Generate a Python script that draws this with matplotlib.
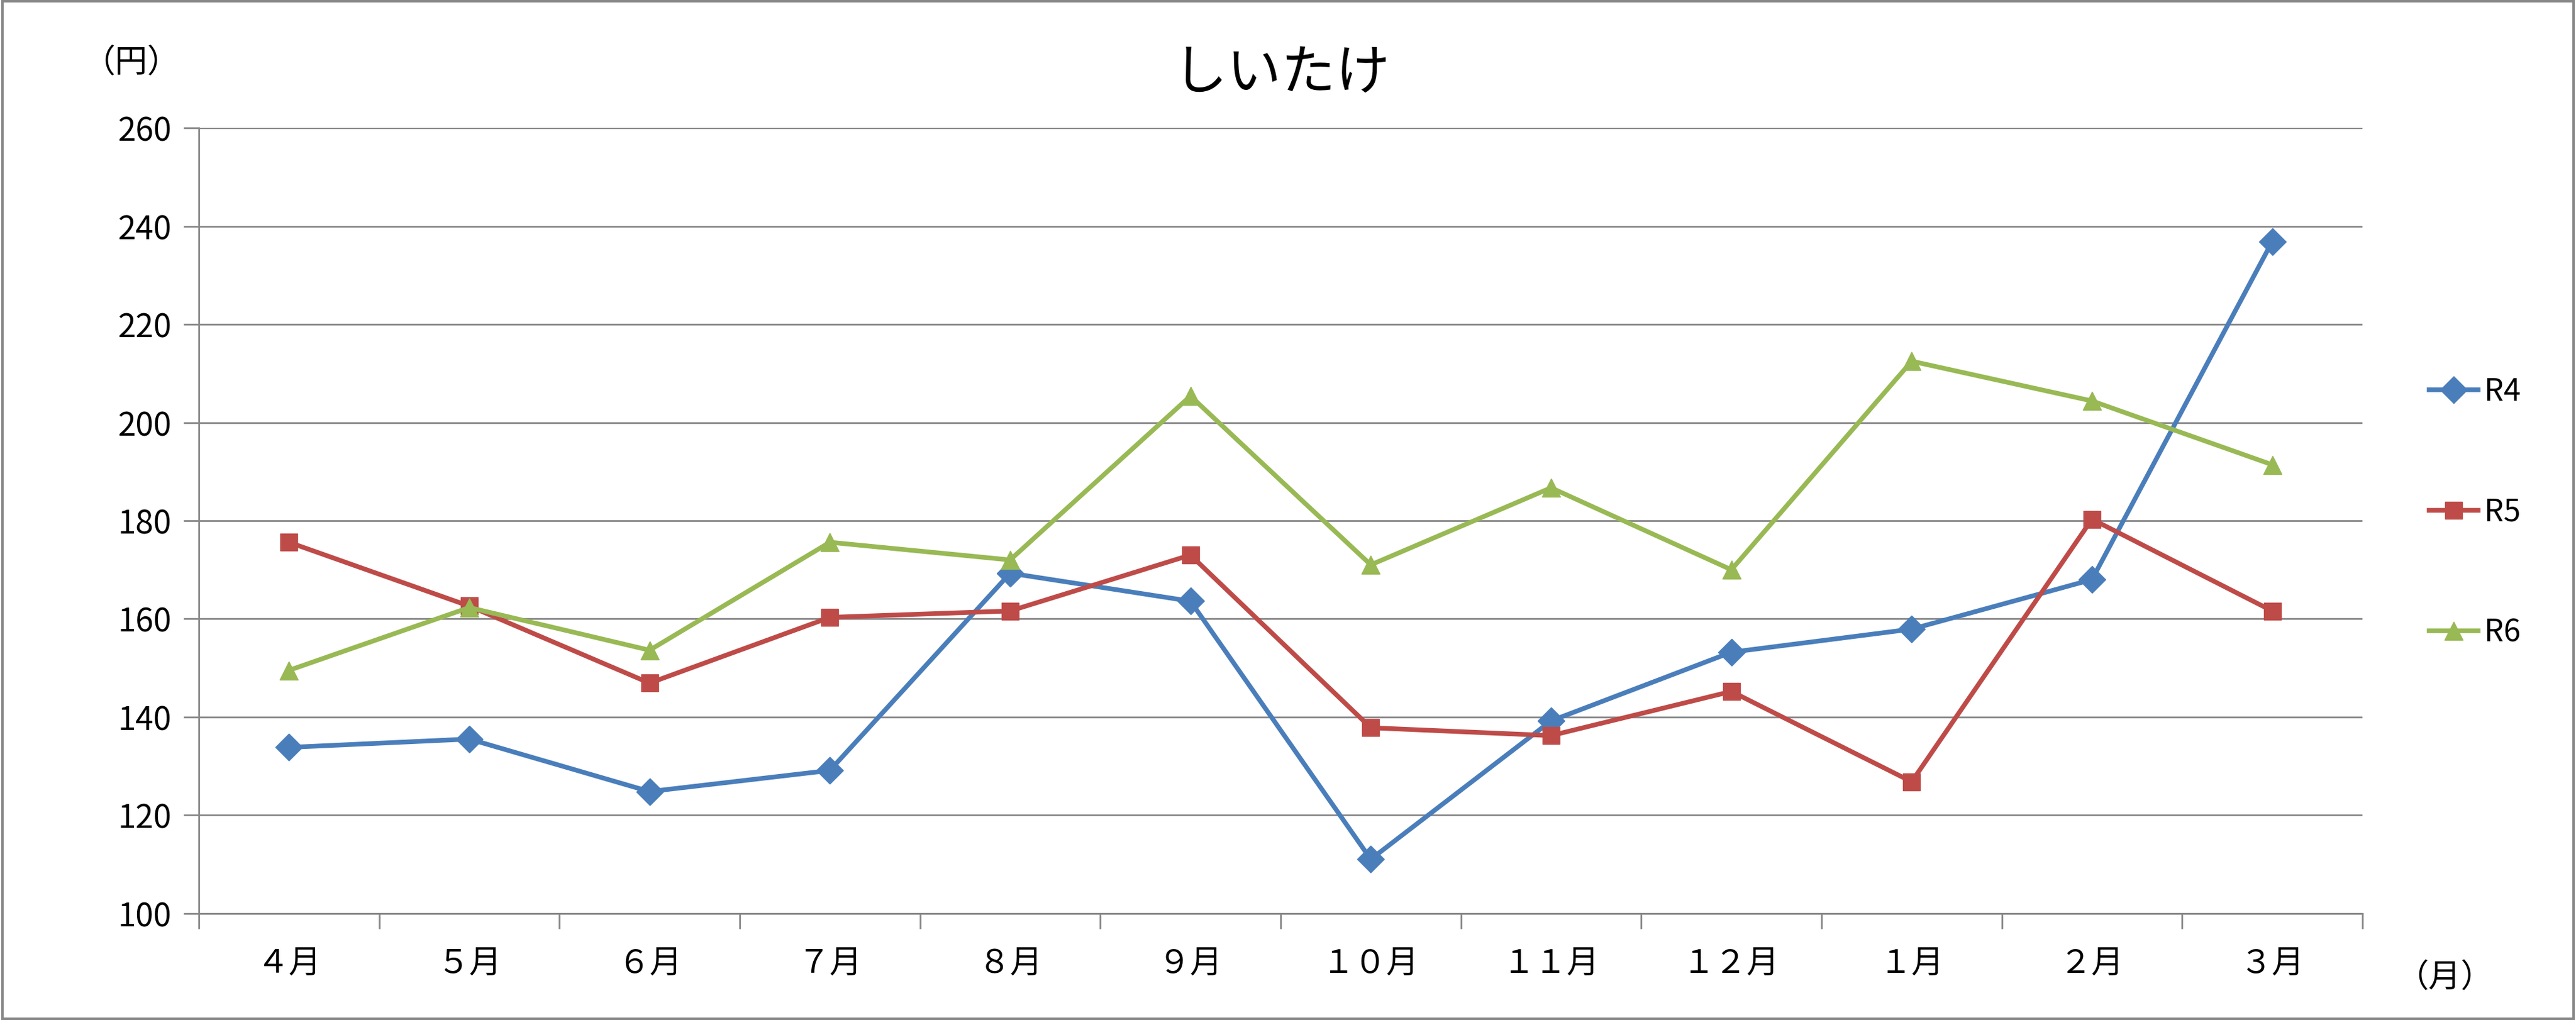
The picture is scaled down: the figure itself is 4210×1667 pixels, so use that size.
import matplotlib.pyplot as plt
import numpy as np

plt.rcParams['font.family'] = ['Noto Sans CJK JP', 'DejaVu Sans']

months = ['４月', '５月', '６月', '７月', '８月', '９月', '１０月', '１１月', '１２月', '１月', '２月', '３月']
r4 = [133.8, 135.5, 124.8, 129.1, 169.3, 163.6, 111.0, 139.2, 153.2, 157.9, 168.0, 236.9]
r5 = [175.6, 162.6, 146.9, 160.3, 161.6, 173.0, 137.8, 136.2, 145.2, 126.8, 180.3, 161.6]
r6 = [149.5, 162.3, 153.6, 175.6, 172.0, 205.4, 171.0, 186.7, 170.0, 212.5, 204.4, 191.4]
yticks = [100, 120, 140, 160, 180, 200, 220, 240, 260]

fig = plt.figure(figsize=(42.1, 16.67), dpi=100)
fig.patches.append(plt.Rectangle((0.001, 0.001), 0.998, 0.998, transform=fig.transFigure,
                                 fill=False, edgecolor='#888888', linewidth=3))
ax = fig.add_axes([121 / 1568, 1 - 556 / 621, (1438 - 121) / 1568, (556 - 78) / 621])

x = np.arange(len(months))
ax.plot(x, r4, color='#4a7ebb', lw=5.5, marker='D', ms=22, label='R4')
ax.plot(x, r5, color='#be4b48', lw=5.5, marker='s', ms=20, label='R5')
ax.plot(x, r6, color='#98b954', lw=5.5, marker='^', ms=22, label='R6')

ax.set_xlim(-0.5, 11.5)
ax.set_ylim(100, 260)
ax.set_yticks(yticks)
ax.set_xticks(x)
ax.set_xticklabels(months)
ax.set_xticks(np.arange(-0.5, 12, 1), minor=True)
ax.tick_params(axis='x', which='major', length=0, labelsize=38, pad=40)
ax.tick_params(axis='x', which='minor', length=18, width=2, color='#888888')
ax.tick_params(axis='y', length=18, width=2, color='#888888', labelsize=38, pad=14)
ax.grid(axis='y', color='#888888', lw=2)
for s in ['top', 'right']:
    ax.spines[s].set_visible(False)
for s in ['left', 'bottom']:
    ax.spines[s].set_color('#888888')
    ax.spines[s].set_linewidth(2)

fig.text(780 / 1568, 1 - 45 / 621, 'しいたけ', ha='center', va='center', fontsize=64)
fig.text(80 / 1568, 1 - 38 / 621, '（円）', ha='center', va='center', fontsize=38)
fig.text(1488 / 1568, 1 - 595 / 621, '（月）', ha='center', va='center', fontsize=38)

leg = fig.legend(loc='center left', bbox_to_anchor=(1462 / 1568, 1 - 312 / 621), frameon=False,
                 fontsize=36, labelspacing=2.9, handlelength=1.6, handletextpad=0.2)

fig.savefig('out.png', dpi=100)
